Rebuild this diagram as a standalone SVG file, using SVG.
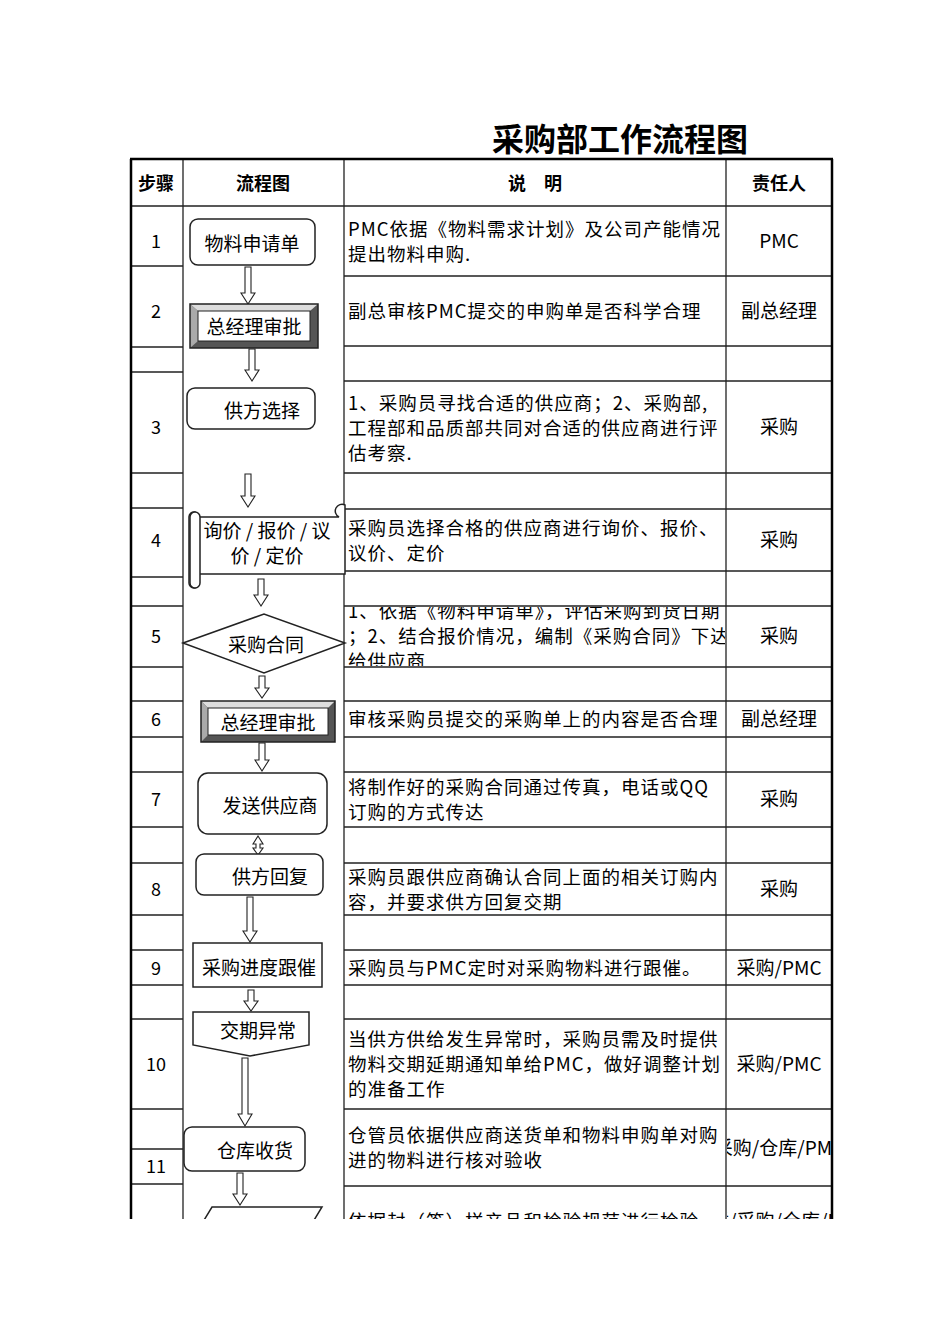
<svg xmlns="http://www.w3.org/2000/svg" width="950" height="1344" viewBox="0 0 950 1344">
<style>
text{font-family:"Noto Sans CJK SC","Noto Sans",sans-serif;fill:#000}
.t{font-size:32px;font-weight:bold}
.h{font-size:18px;font-weight:bold;text-anchor:middle}
.n{font-size:18px;text-anchor:middle}
.d{font-size:18.5px;letter-spacing:1px}
.r{font-size:19px;text-anchor:middle}
.f{font-size:19px;text-anchor:middle}
.g{stroke:#222;stroke-width:1.3;fill:none}
.s{fill:#fff;stroke:#222;stroke-width:1.5}
.a{fill:#fff;stroke:#222;stroke-width:1.1}
</style>
<defs>
<clipPath id="tb"><rect x="0" y="0" width="950" height="1219"/></clipPath>
<clipPath id="c5"><rect x="345" y="607" width="380" height="59"/></clipPath>
<clipPath id="c11"><rect x="727" y="1110" width="104" height="75"/></clipPath>
<clipPath id="c12"><rect x="727" y="1187" width="104" height="32"/></clipPath>
</defs>
<rect width="950" height="1344" fill="#fff"/>
<text class="t" x="620" y="151" text-anchor="middle">采购部工作流程图</text>
<g id="grid" clip-path="url(#tb)">
<g class="g">
<path d="M130 206H832M344 276H832M344 346H832M344 381H832M344 473H832M344 509H832M344 571H832M344 606H832M344 667H832M344 701H832M344 737H832M344 772H832M344 827H832M344 863H832M344 915H832M344 950H832M344 985H832M344 1019H832M344 1109H832M344 1186H832"/>
<path d="M130 266H183M130 347H183M130 372H183M130 473H183M130 508H183M130 577H183M130 606H183M130 667H183M130 701H183M130 737H183M130 772H183M130 827H183M130 863H183M130 915H183M130 950H183M130 985H183M130 1019H183M130 1109H183M130 1149H183M130 1184H183"/>
<path d="M183 159V1219M344 159V1219M726 159V1219"/>
</g>
<path d="M130 159H833M131 159V1219M832 159V1219" stroke="#000" stroke-width="2.5" fill="none"/>
</g>
<g id="header">
<text class="h" x="156" y="190">步骤</text>
<text class="h" x="263" y="190">流程图</text>
<text class="h" x="535" y="190">说　明</text>
<text class="h" x="779" y="190">责任人</text>
</g>
<g id="steps">
<text class="n" x="156" y="248">1</text>
<text class="n" x="156" y="318">2</text>
<text class="n" x="156" y="434">3</text>
<text class="n" x="156" y="547">4</text>
<text class="n" x="156" y="643">5</text>
<text class="n" x="156" y="726">6</text>
<text class="n" x="156" y="806">7</text>
<text class="n" x="156" y="896">8</text>
<text class="n" x="156" y="975">9</text>
<text class="n" x="156" y="1071">10</text>
<text class="n" x="156" y="1173">11</text>
</g>
<g id="desc">
<text class="d" x="348" y="236">PMC依据《物料需求计划》及公司产能情况</text>
<text class="d" x="348" y="261">提出物料申购.</text>
<text class="d" x="348" y="318">副总审核PMC提交的申购单是否科学合理</text>
<text class="d" x="348" y="410">1、采购员寻找合适的供应商；2、采购部,</text>
<text class="d" x="348" y="435">工程部和品质部共同对合适的供应商进行评</text>
<text class="d" x="348" y="460">估考察.</text>
<text class="d" x="348" y="535">采购员选择合格的供应商进行询价、报价、</text>
<text class="d" x="348" y="560">议价、定价</text>
<g clip-path="url(#c5)">
<text class="d" x="348" y="618">1、依据《物料申请单》，评估采购到货日期</text>
<text class="d" x="348" y="643">；2、结合报价情况，编制《采购合同》下达</text>
<text class="d" x="348" y="668">给供应商</text>
</g>
<text class="d" x="348" y="726">审核采购员提交的采购单上的内容是否合理</text>
<text class="d" x="348" y="794">将制作好的采购合同通过传真，电话或QQ</text>
<text class="d" x="348" y="819">订购的方式传达</text>
<text class="d" x="348" y="884">采购员跟供应商确认合同上面的相关订购内</text>
<text class="d" x="348" y="909">容，并要求供方回复交期</text>
<text class="d" x="348" y="975">采购员与PMC定时对采购物料进行跟催。</text>
<text class="d" x="348" y="1046">当供方供给发生异常时，采购员需及时提供</text>
<text class="d" x="348" y="1071">物料交期延期通知单给PMC，做好调整计划</text>
<text class="d" x="348" y="1096">的准备工作</text>
<text class="d" x="348" y="1142">仓管员依据供应商送货单和物料申购单对购</text>
<text class="d" x="348" y="1167">进的物料进行核对验收</text>
<g clip-path="url(#tb)"><text class="d" x="348" y="1228">依据封（签）样产品和检验规范进行检验</text></g>
</g>
<g id="resp">
<text class="r" x="779" y="248">PMC</text>
<text class="r" x="779" y="318">副总经理</text>
<text class="r" x="779" y="434">采购</text>
<text class="r" x="779" y="547">采购</text>
<text class="r" x="779" y="643">采购</text>
<text class="r" x="779" y="726">副总经理</text>
<text class="r" x="779" y="806">采购</text>
<text class="r" x="779" y="896">采购</text>
<text class="r" x="779" y="975">采购/PMC</text>
<text class="r" x="779" y="1071">采购/PMC</text>
<g clip-path="url(#c11)"><text class="r" x="779" y="1155">采购/仓库/PMC</text></g>
<g clip-path="url(#c12)"><text class="r" x="779" y="1228">品质/采购/仓库/PMC</text></g>
</g>
<g id="connectors">
<polygon class="a" points="245,267 251,267 251,293 255,293 248,304 241,293 245,293"/>
<polygon class="a" points="249,349 255,349 255,370 259,370 252,381 245,370 249,370"/>
<polygon class="a" points="245,474 251,474 251,496 255,496 248,507 241,496 245,496"/>
<polygon class="a" points="258,579 264,579 264,595 268,595 261,606 254,595 258,595"/>
<polygon class="a" points="259,676 265,676 265,688 269,688 262,698 255,688 259,688"/>
<polygon class="a" points="259,743 265,743 265,760 269,760 262,771 255,760 259,760"/>
<polygon class="a" points="256,844 256,848 253,848 258,855 263,848 260,848 260,844 263,844 258,836 253,844"/>
<polygon class="a" points="247,897 253,897 253,931 257,931 250,942 243,931 247,931"/>
<polygon class="a" points="248,990 254,990 254,1001 258,1001 251,1011 244,1001 248,1001"/>
<polygon class="a" points="242,1058 248,1058 248,1114 252,1114 245,1126 238,1114 242,1114"/>
<polygon class="a" points="237,1173 243,1173 243,1194 247,1194 240,1205 233,1194 237,1194"/>
</g>
<g id="n1"><rect class="s" x="190" y="219" width="125" height="46" rx="8"/><text class="f" x="252" y="251">物料申请单</text></g>
<g id="n2"><rect x="190" y="304" width="128" height="44" fill="#555"/><polygon points="190,304 318,304 310,311 198,311" fill="#ddd"/><polygon points="190,304 198,311 198,341 190,348" fill="#aaa"/><rect x="198" y="311" width="112" height="30" fill="#fff" stroke="#222"/><rect x="190" y="304" width="128" height="44" fill="none" stroke="#222" stroke-width="1.5"/><text class="f" x="254" y="334">总经理审批</text></g>
<g id="n3"><rect class="s" x="187" y="388" width="128" height="41" rx="8"/><text class="f" x="262" y="418">供方选择</text></g>
<g id="n4"><path class="s" d="M195 517H339A5 5 0 1 1 345 505V574H199V583A5 5 0 0 1 189 583V517A5 5 0 0 1 195 512Z"/><path class="s" d="M195 512A5 5 0 0 1 200 517V583A5 5 0 0 1 190 583V517A5 5 0 0 1 195 512Z"/><text class="f" x="267" y="538">询价 / 报价 / 议</text><text class="f" x="267" y="563">价 / 定价</text></g>
<g id="n5"><polygon class="s" points="183,643 264,614 345,643 264,673"/><text class="f" x="266" y="652">采购合同</text></g>
<g id="n6"><rect x="201" y="701" width="134" height="41" fill="#555"/><polygon points="201,701 335,701 328,708 208,708" fill="#ddd"/><polygon points="201,701 208,708 208,735 201,742" fill="#aaa"/><rect x="208" y="708" width="120" height="27" fill="#fff" stroke="#222"/><rect x="201" y="701" width="134" height="41" fill="none" stroke="#222" stroke-width="1.5"/><text class="f" x="268" y="730">总经理审批</text></g>
<g id="n7"><rect class="s" x="198" y="773" width="129" height="61" rx="10"/><text class="f" x="270" y="813">发送供应商</text></g>
<g id="n8"><rect class="s" x="196" y="854" width="127" height="41" rx="8"/><text class="f" x="270" y="884">供方回复</text></g>
<g id="n9"><rect class="s" x="193" y="943" width="129" height="44"/><text class="f" x="259" y="975">采购进度跟催</text></g>
<g id="n10"><polygon class="s" points="193,1012 309,1012 309,1045 250,1056 193,1045"/><text class="f" x="258" y="1038">交期异常</text></g>
<g id="n11"><rect class="s" x="184" y="1127" width="121" height="44" rx="8"/><text class="f" x="255" y="1158">仓库收货</text></g>
<g id="n12" clip-path="url(#tb)"><polygon class="s" points="212,1207 322,1207 302,1240 192,1240"/></g>
</svg>
